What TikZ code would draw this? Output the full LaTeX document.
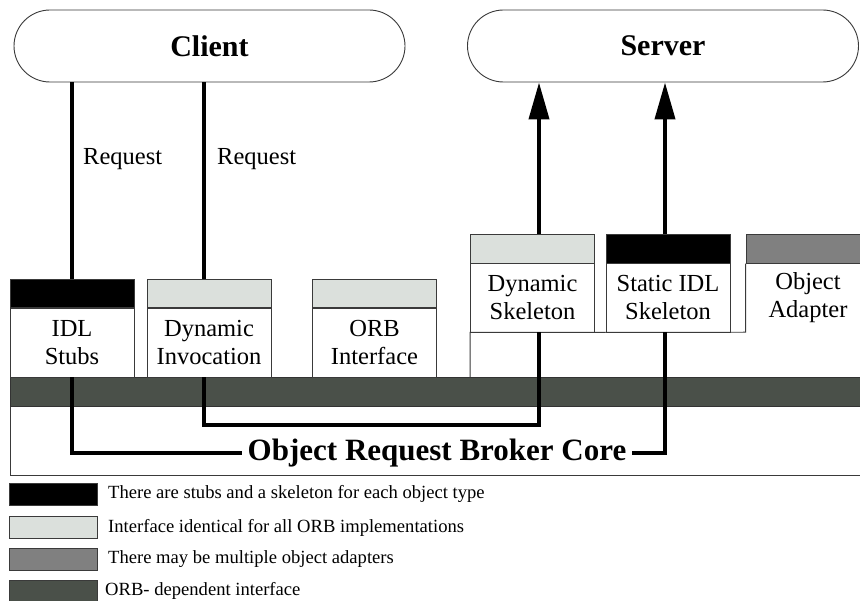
\documentclass[tikz,border=0pt]{standalone}
\usepackage{fontspec}
\setmainfont{Liberation Serif}
\usetikzlibrary{arrows.meta}
\definecolor{lgray}{HTML}{DBE0DC}
\definecolor{mgray}{HTML}{808080}
\definecolor{dgray}{HTML}{4A5049}
\definecolor{edge}{HTML}{3A3A3A}
\begin{document}
\begin{tikzpicture}[x=1pt,y=-1pt,
  pill/.style={draw=edge, line width=0.9pt, rounded corners=36pt, minimum width=391pt, minimum height=72pt, inner sep=0pt, font=\fontsize{30}{34}\selectfont\bfseries},
  body/.style={draw=edge, line width=0.8pt, fill=white, minimum width=124pt, minimum height=69pt, inner sep=0pt, align=center, font=\fontsize{24.5}{28}\selectfont},
  plain/.style={minimum width=124pt, minimum height=69pt, inner sep=0pt, align=center, font=\fontsize{24.5}{28}\selectfont},
  hdr/.style={draw=edge, line width=0.8pt, minimum width=124pt, minimum height=28.5pt, inner sep=0pt},
  frame/.style={draw=edge, line width=0.9pt},
  wire/.style={line width=4pt},
  lab/.style={font=\fontsize{24.5}{28}\selectfont, inner sep=0pt},
  legbox/.style={draw=edge, line width=0.8pt, minimum width=88pt, minimum height=22pt, inner sep=0pt},
  legtext/.style={font=\fontsize{18.6}{22}\selectfont, inner sep=0pt, anchor=west},
  arr/.style={line width=4pt, -{Triangle[length=37pt,width=20pt]}}
]
\clip (0,0) rectangle (860,601);
\fill[white] (0,0) rectangle (860,601);

% client / server
\node[pill] (client) at (209.5,46) {Client};
\node[pill] (server) at (663,46) {Server};

% dark band and frame
\node[fill=dgray, draw=black!80, line width=0.9pt, minimum width=870pt, minimum height=29pt, inner sep=0pt, anchor=north west] (band) at (10,377) {};
\draw[frame] (band.south west) -- (10,475) -- (870,475);

% client side boxes
\node[hdr, fill=black] (stubsH) at (72,293.5) {};
\node[body] (stubs) at (72,342.5) {IDL\\Stubs};
\node[hdr, fill=lgray] (dinvH) at (209,293.5) {};
\node[body] (dinv) at (209,342.5) {Dynamic\\Invocation};
\node[hdr, fill=lgray] (orbH) at (374.5,293.5) {};
\node[body] (orb) at (374.5,342.5) {ORB\\Interface};

% server side boxes
\node[hdr, fill=lgray] (dskelH) at (532.5,249) {};
\node[body] (dskel) at (532.5,297.5) {Dynamic\\Skeleton};
\node[hdr, fill=black] (sisH) at (668,249) {};
\node[body] (sis) at (668,297.5) {Static IDL\\Skeleton};
\node[hdr, fill=mgray] (oaH) at (808,249) {};
\node[plain] (oa) at (808,297.5) {Object\\Adapter};
\draw[frame] (oaH.south west) -- (oaH.south west |- oa.south) -- (dskel.south west) -- (dskel.south west |- band.north);

% request labels
\node[lab, anchor=base west] (req1) at (83,165) {Request};
\node[lab, anchor=base west] (req2) at (217,165) {Request};

% core label
\node[font=\fontsize{31}{35}\selectfont\bfseries, inner xsep=6pt, inner ysep=0pt] (core) at (437,453) {Object Request Broker Core};

% wires
\draw[wire] (client.south -| stubsH.north) -- (stubsH.north);
\draw[wire] ([xshift=-5pt]dinvH.north |- client.south) -- ([xshift=-5pt]dinvH.north);
\draw[arr] ([xshift=6.5pt]dskelH.north) -- ([xshift=6.5pt]dskelH.north |- server.south);
\draw[arr] ([xshift=-3pt]sisH.north) -- ([xshift=-3pt]sisH.north |- server.south);
\draw[wire] (stubs.south) |- (core.west);
\draw[wire] (core.east) -| ([xshift=-3pt]sis.south);
\draw[wire] ([xshift=-5pt]dinv.south) -- ++(0,48) -| ([xshift=6.5pt]dskel.south);

% legend
\node[legbox, fill=black] (l1) at (53,494) {};
\node[legtext] (t1) at (108,494) {There are stubs and a skeleton for each object type};
\node[legbox, fill=lgray] (l2) at (53,527.5) {};
\node[legtext] (t2) at (108,527.5) {Interface identical for all ORB implementations};
\node[legbox, fill=mgray] (l3) at (53,559) {};
\node[legtext] (t3) at (108,559) {There may be multiple object adapters};
\node[legbox, fill=dgray] (l4) at (53,591) {};
\node[legtext] (t4) at (105,591) {ORB- dependent interface};
\end{tikzpicture}
\end{document}
